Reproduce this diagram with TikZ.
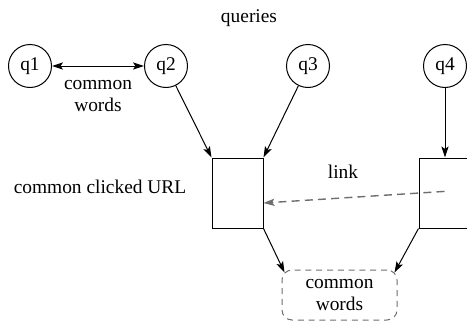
\documentclass[tikz,border=0pt]{standalone}
\usepackage{fontspec}
\setmainfont{Liberation Serif}
\usetikzlibrary{shapes,arrows.meta,positioning,calc}
\definecolor{dashgray}{HTML}{6E6E6E}

\begin{document}
\begin{tikzpicture}[x=0.5pt, y=-0.5pt,
  font=\fontsize{9.7}{11}\selectfont,
  >={Stealth[length=5.5pt, width=3.6pt, inset=1.2pt]},
  qnode/.style={circle, draw, line width=0.5pt, minimum size=21.5pt, inner sep=0pt},
  urlbox/.style={rectangle, draw, line width=0.5pt, minimum width=25.5pt, minimum height=35pt, inner sep=0pt},
  wordbox/.style={rectangle, draw=dashgray, line width=0.5pt, dash pattern=on 3pt off 2.4pt, rounded corners=5pt,
    minimum width=57.5pt, minimum height=25pt, align=center, inner sep=0pt},
  arr/.style={->, line width=0.5pt},
  biarr/.style={<->, line width=0.5pt},
  dasharr/.style={->, line width=0.7pt, dashgray, dash pattern=on 4pt off 2.6pt}
]
  \clip (0,0) rectangle (467,322);
  \useasboundingbox (0,0) rectangle (467,322);

  \node (qlabel) at (249,18) {queries};
  \node[qnode] (q1) at (30,66) {q1};
  \node[qnode] (q2) at (166,66) {q2};
  \node[qnode] (q3) at (308,66) {q3};
  \node[qnode] (q4) at (445,66) {q4};

  \node[align=center] (cwlabel) at (98,96) {common\\words};
  \node (urllabel) at (100,187) {common clicked URL};
  \node (linklabel) at (343,172) {link};

  \node[urlbox] (url1) at (237.5,193) {};
  \node[urlbox] (url2) at (444.5,193) {};
  \node[wordbox] (cw) at (339.5,295) {common\\words};

  \draw[biarr] (q1) -- (q2);
  \draw[arr] (q2) -- (url1.north west);
  \draw[arr] (q3) -- (url1.north east);
  \draw[arr] (q4) -- (url2.north -| q4);
  \draw[dasharr] ([yshift=0.8pt]url2.center) -- ([yshift=-5pt]url1.east);
  \draw[arr] (url1.south east) -- ([shift={(1.5pt,-1.5pt)}]cw.north west);
  \draw[arr] (url2.south west) -- ([shift={(-1.5pt,-1.5pt)}]cw.north east);
\end{tikzpicture}
\end{document}
